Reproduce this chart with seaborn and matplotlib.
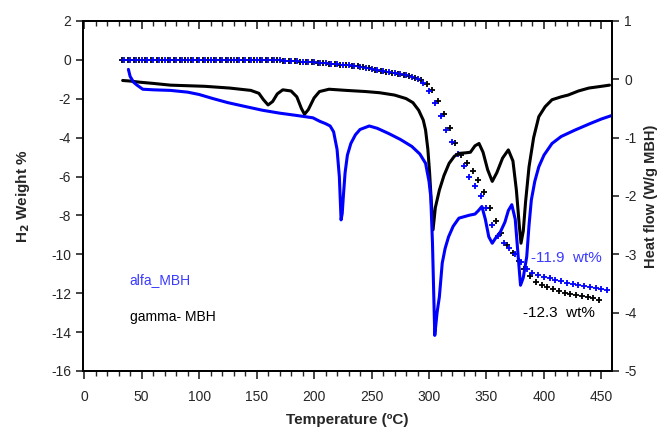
import numpy as np
import matplotlib
matplotlib.use("Agg")
import matplotlib.pyplot as plt
from matplotlib.ticker import MultipleLocator
import seaborn as sns

# TG curves (weight loss, left axis) - read at 5 degC steps
tg_alfa_temp = [35, 40, 45, 50, 55, 60, 65, 70, 75, 80,
                85, 90, 95, 100, 105, 110, 115, 120, 125, 130,
                135, 140, 145, 150, 155, 160, 165, 170, 175, 180,
                185, 190, 195, 200, 205, 210, 215, 220, 225, 230,
                235, 240, 245, 250, 255, 260, 265, 270, 275, 280,
                285, 290, 295, 300, 305, 310, 315, 320, 325, 330,
                335, 340, 345, 350, 355, 360, 365, 370, 375, 380,
                385, 390, 395, 400, 405, 410, 415, 420, 425, 430,
                435, 440, 445, 450, 455]
tg_alfa = [0.0, 0.0, 0.0, 0.0, 0.0, 0.0, 0.0, 0.0, 0.0, 0.0,
           0.0, 0.0, 0.0, 0.0, 0.0, 0.0, 0.0, 0.0, 0.0, 0.0,
           0.0, 0.0, 0.0, 0.0, -0.01, -0.02, -0.02, -0.03, -0.05, -0.06,
           -0.08, -0.09, -0.11, -0.12, -0.15, -0.17, -0.2, -0.22, -0.25, -0.27,
           -0.31, -0.35, -0.4, -0.46, -0.52, -0.57, -0.62, -0.68, -0.74, -0.8,
           -0.88, -1.0, -1.2, -1.6, -2.2, -2.9, -3.6, -4.2, -4.85, -5.45,
           -6.0, -6.5, -7.0, -7.6, -8.5, -9.05, -9.4, -9.7, -10.0, -10.4,
           -10.75, -10.95, -11.05, -11.15, -11.22, -11.3, -11.37, -11.45, -11.53, -11.6,
           -11.65, -11.7, -11.75, -11.8, -11.85]

tg_gamma_temp = [33, 38, 43, 48, 53, 58, 63, 68, 73, 78,
                 83, 88, 93, 98, 103, 108, 113, 118, 123, 128,
                 133, 138, 143, 148, 153, 158, 163, 168, 173, 178,
                 183, 188, 193, 198, 203, 208, 213, 218, 223, 228,
                 233, 238, 243, 248, 253, 258, 263, 268, 273, 278,
                 283, 288, 293, 298, 303, 308, 313, 318, 323, 328,
                 333, 338, 343, 348, 353, 358, 363, 368, 373, 378,
                 383, 388, 393, 398, 403, 408, 413, 418, 423, 428,
                 433, 438, 443, 448]
tg_gamma = [0.0, 0.0, 0.0, 0.0, 0.0, 0.0, 0.0, 0.0, 0.0, 0.0,
            0.0, 0.0, 0.0, 0.0, 0.0, 0.0, 0.0, 0.0, 0.0, 0.0,
            0.0, 0.0, 0.0, 0.0, -0.01, -0.02, -0.02, -0.03, -0.04, -0.06,
            -0.07, -0.09, -0.1, -0.12, -0.14, -0.16, -0.19, -0.21, -0.24, -0.27,
            -0.3, -0.34, -0.38, -0.44, -0.5, -0.55, -0.6, -0.65, -0.71, -0.77,
            -0.83, -0.92, -1.05, -1.25, -1.55, -2.1, -2.8, -3.5, -4.3, -4.9,
            -5.3, -5.7, -6.2, -6.8, -7.6, -8.3, -8.9, -9.5, -9.95, -10.35,
            -10.75, -11.1, -11.4, -11.58, -11.68, -11.78, -11.88, -11.97, -12.03, -12.08,
            -12.14, -12.2, -12.27, -12.35]

# DSC curves (heat flow, right axis)
dsc_alfa_temp = [38.5, 40, 43, 46, 51, 60, 75, 90, 100, 112,
                 125, 141, 155, 170, 185, 199, 205, 210, 214, 217,
                 220, 222, 223.5, 224.5, 225.5, 227, 229, 232, 236, 240,
                 248, 255, 265, 275, 285, 292, 297, 300, 301.5, 303,
                 305, 307, 309, 311.5, 314, 317, 321, 326, 335, 340,
                 343, 346, 349, 352, 355, 358, 362, 366, 369, 372,
                 375, 377, 379.6, 382, 385, 387, 389, 392, 395.5, 400,
                 407, 415, 427, 440, 450, 459]
dsc_alfa = [0.17, 0.05, -0.05, -0.1, -0.17, -0.18, -0.19, -0.22, -0.26, -0.33,
            -0.4, -0.47, -0.53, -0.58, -0.62, -0.66, -0.72, -0.76, -0.8, -0.9,
            -1.2, -1.67, -2.41, -2.3, -2.0, -1.6, -1.3, -1.1, -0.95, -0.86,
            -0.8, -0.84, -0.93, -1.03, -1.15, -1.28, -1.44, -1.75, -2.01, -2.8,
            -4.39, -4.0, -3.73, -3.15, -2.9, -2.7, -2.52, -2.38, -2.33, -2.31,
            -2.25, -2.18, -2.4, -2.7, -2.81, -2.72, -2.62, -2.45, -2.25, -2.15,
            -2.4, -2.9, -3.53, -3.4, -3.04, -2.5, -2.07, -1.75, -1.5, -1.3,
            -1.1, -0.98, -0.87, -0.76, -0.68, -0.62]

dsc_gamma_temp = [33.5, 40, 48.6, 60, 75, 90, 105, 126.6, 145, 152,
                  156, 160, 164, 168, 172.8, 180, 185, 189, 191.7, 195,
                  200, 204.7, 213, 228, 245, 257, 270, 280, 286, 291,
                  295, 297, 299, 300.5, 302, 303.5, 305.5, 309, 313, 317.5,
                  322, 326, 332, 336, 340, 343.5, 347, 351, 355, 359,
                  364, 369, 373, 376, 378.5, 380, 382, 384, 387, 391,
                  395.5, 401, 407, 415, 421, 430, 439, 450, 457]
dsc_gamma = [-0.02, -0.03, -0.05, -0.07, -0.1, -0.11, -0.12, -0.15, -0.19, -0.24,
             -0.35, -0.44, -0.38, -0.25, -0.18, -0.2, -0.3, -0.5, -0.6, -0.52,
             -0.32, -0.21, -0.17, -0.19, -0.21, -0.23, -0.27, -0.33, -0.4, -0.53,
             -0.7, -0.87, -1.2, -1.6, -2.1, -2.58, -2.2, -1.9, -1.65, -1.44,
             -1.32, -1.27, -1.26, -1.25, -1.14, -1.1, -1.25, -1.55, -1.75, -1.6,
             -1.35, -1.21, -1.4, -1.9, -2.5, -2.81, -2.6, -2.1, -1.5, -1.0,
             -0.64, -0.47, -0.35, -0.3, -0.27, -0.2, -0.15, -0.12, -0.1]

blue = "#0000ff"
label_blue = "#3b3bff"

sns.set_style("ticks")
plt.rcParams["font.family"] = ["Liberation Sans", "DejaVu Sans"]
plt.rcParams["axes.unicode_minus"] = False

fig = plt.figure(figsize=(6.65, 4.28), dpi=100)
ax = fig.add_axes([0.1248, 0.1332, 0.7952, 0.8178])
ax2 = ax.twinx()

sns.scatterplot(x=tg_gamma_temp, y=tg_gamma, ax=ax, marker="+", color="black",
                s=22, linewidth=1.3, zorder=3)
sns.scatterplot(x=tg_alfa_temp, y=tg_alfa, ax=ax, marker="+", color=blue,
                s=22, linewidth=1.3, zorder=4)

sns.lineplot(x=dsc_gamma_temp, y=dsc_gamma, ax=ax2, color="black", linewidth=2.2)
sns.lineplot(x=dsc_alfa_temp, y=dsc_alfa, ax=ax2, color=blue, linewidth=2.2)

ax.set_xlim(-1, 459)
ax.set_ylim(-16, 2)
ax2.set_ylim(-5, 1)

ax.xaxis.set_major_locator(MultipleLocator(50))
ax.xaxis.set_minor_locator(MultipleLocator(10))
ax.yaxis.set_major_locator(MultipleLocator(2))
ax2.yaxis.set_major_locator(MultipleLocator(1))

for spine in list(ax.spines.values()) + list(ax2.spines.values()):
    spine.set_linewidth(1.3)
    spine.set_color("black")

ax.tick_params(axis="x", which="major", direction="out", length=6, width=1.2,
               labelsize=10, pad=8)
ax.tick_params(axis="x", which="minor", direction="out", length=3.5, width=1.0)
ax.tick_params(axis="y", which="major", direction="out", length=5, width=1.2, labelsize=10)
ax2.tick_params(axis="y", which="major", direction="out", length=5, width=1.2,
                labelsize=10, pad=4)

# inward ticks along the top frame
top = ax.secondary_xaxis("top")
top.xaxis.set_major_locator(MultipleLocator(50))
top.xaxis.set_minor_locator(MultipleLocator(10))
top.tick_params(which="major", direction="in", length=6, width=1.2, labeltop=False)
top.tick_params(which="minor", direction="in", length=3.5, width=1.0)
top.spines["top"].set_linewidth(1.3)

ax.set_xlabel("Temperature (ºC)", fontsize=11, fontweight="bold", labelpad=6)
ax.set_ylabel("H$_\\mathbf{2}$ Weight %", fontsize=11, fontweight="bold", labelpad=14)
ax2.set_ylabel("Heat flow (W/g MBH)", fontsize=10.5, fontweight="bold", labelpad=5)

ax.text(39, -11.3, "alfa_MBH", color=label_blue, fontsize=10, va="center")
ax.text(40, -13.2, "gamma- MBH", color="black", fontsize=10, va="center")
ax.text(389, -10.2, "-11.9  wt%", color=label_blue, fontsize=11, va="center")
ax.text(382, -13.0, "-12.3  wt%", color="black", fontsize=11, va="center")

fig.savefig("out.png", dpi=100)
